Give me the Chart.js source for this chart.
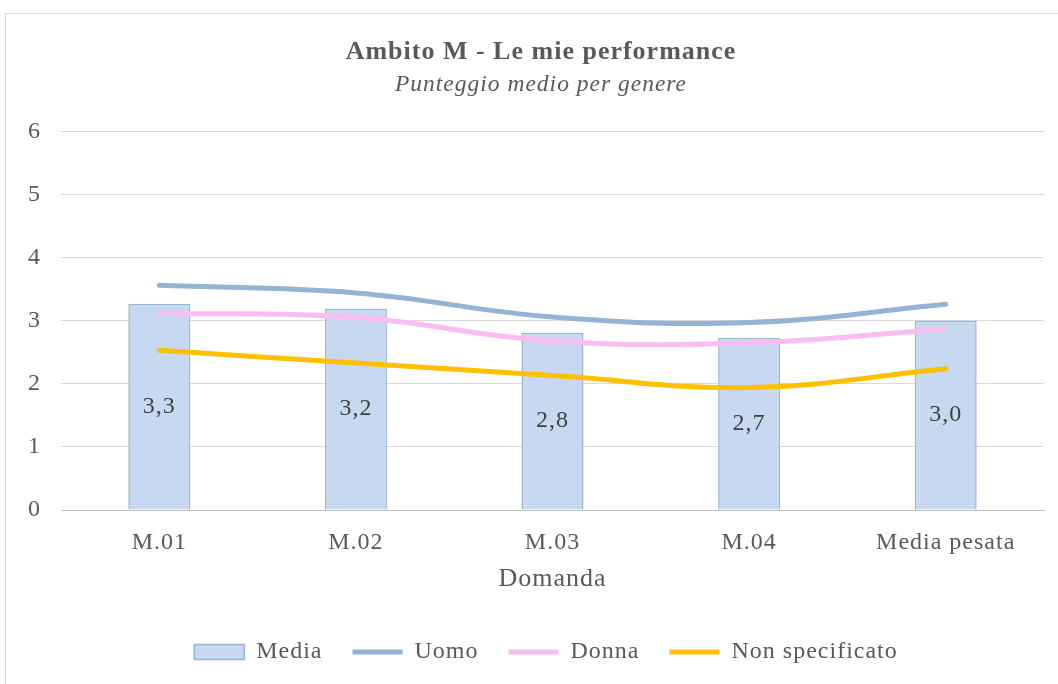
<!DOCTYPE html>
<html><head><meta charset="utf-8">
<script src="https://cdn.jsdelivr.net/npm/chart.js@4/dist/chart.umd.min.js"></script>
<style>html,body{margin:0;padding:0;background:#fff}#wrap{width:1058px;height:684px}</style>
</head><body><div id="wrap"><canvas id="c" width="1058" height="684"></canvas></div>
<script>
const categories = ['M.01', 'M.02', 'M.03', 'M.04', 'Media pesata'];
const media = [3.27, 3.19, 2.81, 2.73, 3.00];
const uomo = [3.56, 3.44, 3.06, 2.97, 3.26];
const donna = [3.12, 3.05, 2.68, 2.65, 2.87];
const nonSpecificato = [2.53, 2.33, 2.13, 1.94, 2.24];
const yTicks = [0, 1, 2, 3, 4, 5, 6];

const FONT = "'Liberation Serif', 'DejaVu Serif', serif";
const TXT = '#595959';
const SPACING = '1px';

const spacingPlugin = {
  id: 'spacing',
  beforeUpdate(chart) { chart.ctx.letterSpacing = SPACING; },
  beforeLayout(chart) { chart.ctx.letterSpacing = SPACING; },
  beforeDraw(chart) { chart.ctx.letterSpacing = SPACING; }
};

// shift the title, subtitle and legend boxes so they are centred like the original
const shiftPlugin = {
  id: 'shiftBlocks',
  afterLayout(chart) {
    chart.boxes.forEach(b => {
      if (b === chart.legend) { b.left += 48; }
      else if (b.position === 'top' && b.options && typeof b.options.text === 'string') { b.left += 38; }
    });
  }
};

const borderPlugin = {
  id: 'frame',
  beforeDraw(chart) {
    const ctx = chart.ctx;
    ctx.save();
    ctx.fillStyle = '#fff';
    ctx.fillRect(0, 0, chart.width, chart.height);
    ctx.strokeStyle = '#d9d9d9';
    ctx.lineWidth = 1;
    ctx.strokeRect(5.5, 13.5, chart.width + 10, chart.height + 10);
    ctx.restore();
  }
};

const labelPlugin = {
  id: 'barLabels',
  afterDatasetsDraw(chart) {
    const meta = chart.getDatasetMeta(0);
    const ctx = chart.ctx;
    ctx.save();
    ctx.font = "24px " + FONT;
    ctx.fillStyle = '#404040';
    ctx.textAlign = 'center';
    ctx.textBaseline = 'middle';
    meta.data.forEach((bar, i) => {
      const v = chart.data.datasets[0].data[i];
      ctx.fillText(v.toFixed(1).replace('.', ','), bar.x, (bar.y + bar.base) / 2);
    });
    ctx.restore();
  }
};

new Chart(document.getElementById('c'), {
  data: {
    labels: categories,
    datasets: [
      { type: 'bar', label: 'Media', data: media, backgroundColor: '#c6d9f0', borderColor: '#95b3d7', borderWidth: 1.5,
        barPercentage: 0.63, categoryPercentage: 0.5, order: 10, pointStyle: 'rect' },
      { type: 'line', label: 'Uomo', data: uomo, borderColor: '#95b3d7', backgroundColor: '#95b3d7', borderWidth: 5,
        tension: 0.4, pointRadius: 0, borderCapStyle: 'round', order: 1, pointStyle: 'line' },
      { type: 'line', label: 'Donna', data: donna, borderColor: '#fbbcf0', backgroundColor: '#fbbcf0', borderWidth: 5,
        tension: 0.4, pointRadius: 0, borderCapStyle: 'round', order: 2, pointStyle: 'line' },
      { type: 'line', label: 'Non specificato', data: nonSpecificato, borderColor: '#ffc000', backgroundColor: '#ffc000', borderWidth: 5,
        tension: 0.4, pointRadius: 0, borderCapStyle: 'round', order: 3, pointStyle: 'line' }
    ]
  },
  options: {
    responsive: false,
    animation: false,
    layout: { padding: { top: 37, left: 0, right: 14, bottom: 10 } },
    plugins: {
      tooltip: { enabled: false },
      title: { display: true, text: 'Ambito M - Le mie performance', color: TXT,
        font: { family: FONT, size: 26, weight: 'bold' }, padding: { top: 0, bottom: 3 } },
      subtitle: { display: true, text: 'Punteggio medio per genere', color: TXT,
        font: { family: FONT, size: 23.5, style: 'italic' }, padding: { top: 0, bottom: 32 } },
      legend: {
        position: 'bottom',
        labels: {
          color: TXT, font: { family: FONT, size: 24 },
          usePointStyle: true, pointStyleWidth: 50, boxWidth: 50, boxHeight: 15, padding: 30,
          sort: (a, b) => a.datasetIndex - b.datasetIndex
        }
      }
    },
    scales: {
      x: {
        afterFit: (s) => { s.height = 100; },
        grid: { display: false },
        border: { color: '#bfbfbf', width: 1 },
        ticks: { color: TXT, font: { family: FONT, size: 24 }, padding: 10 },
        title: { display: true, text: 'Domanda', color: TXT, font: { family: FONT, size: 26 }, padding: { top: 0, bottom: 15 } }
      },
      y: {
        min: 0, max: 6,
        afterBuildTicks: (s) => { s.ticks = yTicks.map(v => ({ value: v })); },
        afterFit: (s) => { s.width = 61; },
        grid: { color: '#d9d9d9', lineWidth: 1, drawTicks: false },
        border: { display: false },
        ticks: { color: TXT, font: { family: FONT, size: 24 }, padding: 20 }
      }
    }
  },
  plugins: [spacingPlugin, shiftPlugin, borderPlugin, labelPlugin]
});
</script></body></html>
